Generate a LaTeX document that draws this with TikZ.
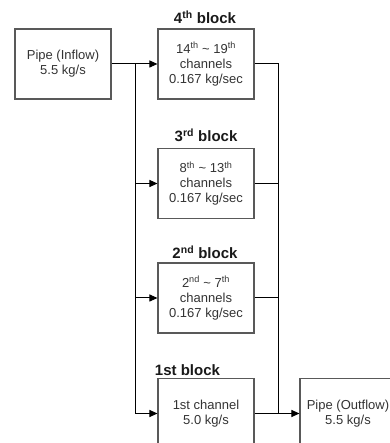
\documentclass[tikz,border=0pt]{standalone}
\usepackage{fontspec}
\setmainfont{Liberation Sans}
\usepackage{xcolor}
\usetikzlibrary{arrows.meta,positioning}

\begin{document}
\begin{tikzpicture}[
  x=1pt, y=1pt,
  font=\fontsize{13}{15}\selectfont,
  box/.style={draw=black!65, line width=1.1pt, align=center, minimum width=96pt, minimum height=70pt, text=black!80, inner sep=0pt},
  blocklabel/.style={font=\fontsize{15}{17}\selectfont\bfseries, text=black!90},
  arrow/.style={-{Triangle[length=8pt,width=7pt]}, line width=1pt},
  link/.style={line width=1pt}
]
\useasboundingbox (0,0) rectangle (389,443);
\node[box] (Inflow) at (63,379) {Pipe (Inflow)\\5.5 kg/s};
\node[box] (B4) at (206,379) {14\textsuperscript{th} \textasciitilde{} 19\textsuperscript{th}\\channels\\0.167 kg/sec};
\node[box] (B3) at (206,259.5) {8\textsuperscript{th} \textasciitilde{} 13\textsuperscript{th}\\channels\\0.167 kg/sec};
\node[box] (B2) at (206,145) {2\textsuperscript{nd} \textasciitilde{} 7\textsuperscript{th}\\channels\\0.167 kg/sec};
\node[box] (B1) at (206,29.5) {1st channel\\5.0 kg/s};
\node[box] (Outflow) at (348,29.5) {Pipe (Outflow)\\5.5 kg/s};

\node[blocklabel] (L4) at (205,426) {4\textsuperscript{th} block};
\node[blocklabel] (L3) at (206,308) {3\textsuperscript{rd} block};
\node[blocklabel] (L2) at (205,191) {2\textsuperscript{nd} block};
\node[blocklabel] (L1) at (187.5,73) {1st block};

\coordinate (Split) at (135,379);
\coordinate (Join) at (278,29.5);

\draw[arrow] (Inflow) -- (B4);
\draw[arrow] (Split) |- (B3);
\draw[arrow] (Split) |- (B2);
\draw[arrow] (Split) |- (B1);
\draw[link] (B4) -| (Join);
\draw[link] (B3) -| (Join);
\draw[link] (B2) -| (Join);
\draw[arrow] (B1) -- (Outflow);
\end{tikzpicture}
\end{document}
